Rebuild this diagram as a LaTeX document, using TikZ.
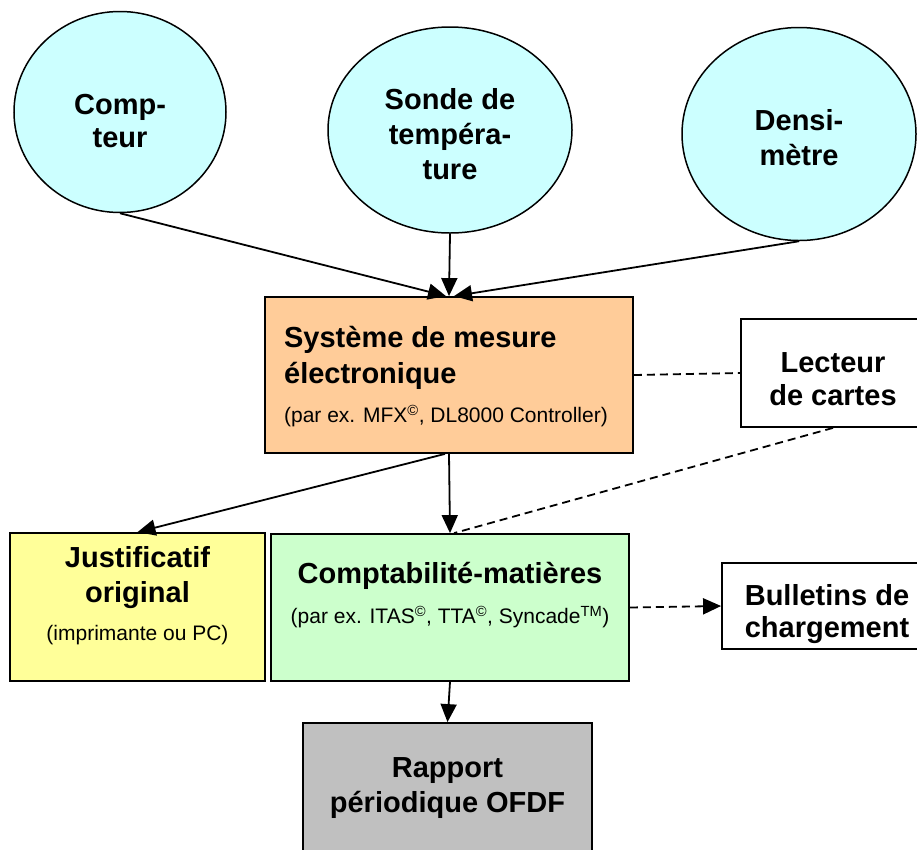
\documentclass[tikz,border=0pt]{standalone}
\usepackage{fontspec}
\setmainfont{Liberation Sans}
\usetikzlibrary{positioning,shapes.geometric,arrows.meta}
\definecolor{sensorfill}{HTML}{CCFFFF}
\definecolor{mesurefill}{HTML}{FFCC99}
\definecolor{justiffill}{HTML}{FFFF99}
\definecolor{comptafill}{HTML}{CCFFCC}
\definecolor{rapportfill}{HTML}{C0C0C0}
\newcommand{\headfont}{\fontsize{29}{35}\selectfont\bfseries}
\newcommand{\notefont}{\fontsize{21}{25}\selectfont\mdseries}
\tikzset{sensor/.style={ellipse,draw,line width=1.5pt,fill=sensorfill,inner sep=0pt},
         block/.style={draw,line width=1.8pt,inner sep=0pt},
         blocktext/.style={inner sep=0pt,align=center,font=\headfont},
         dashlink/.style={line width=1.8pt,dash pattern=on 8pt off 5pt}
}
\tikzstyle{arrow} = [line width=1.8pt,-{Triangle[length=18pt,width=16pt]}]
\begin{document}
\begin{tikzpicture}[x=1pt,y=-1pt]
\useasboundingbox (0,0) rectangle (917,849);

% capteurs
\node[sensor,minimum width=212pt,minimum height=201pt] (cpt) at (120,112) {};
\node[blocktext] (cpttxt) at ([yshift=-9pt]cpt.center) {Comp-\\[-2pt]teur};
\node[sensor,minimum width=244pt,minimum height=206pt] (sonde) at (450,130) {};
\node[blocktext] (sondetxt) at ([yshift=-4pt]sonde.center) {Sonde de\\tempéra-\\ture};
\node[sensor,minimum width=234pt,minimum height=213pt] (dens) at (799,134) {};
\node[blocktext] (denstxt) at ([yshift=-4pt]dens.center) {Densi-\\mètre};

% systemes
\node[block,fill=mesurefill,minimum width=368pt,minimum height=156pt] (sys) at (449,375) {};
\node[blocktext,align=left] (systxt) at ([xshift=-3pt,yshift=-2pt]sys.center)
  {Système de mesure\\[1pt]électronique\\[4pt]{\notefont (par ex. MFX\textsuperscript{©}, DL8000 Controller)}};
\node[block,fill=white,minimum width=184pt,minimum height=108pt] (lect) at (833,373) {};
\node[blocktext] (lecttxt) at ([yshift=-6pt]lect.center) {Lecteur\\[-2pt]de cartes};
\node[block,fill=justiffill,minimum width=255pt,minimum height=148pt] (just) at (137.5,607) {};
\node[blocktext,below=14.5pt of just.north] (justtxt)
  {Justificatif\\original\\[3pt]{\notefont (imprimante ou PC)}};
\node[block,fill=comptafill,minimum width=358pt,minimum height=147pt] (compta) at (450,607.5) {};
\node[blocktext,below=29pt of compta.north] (comptatxt)
  {Comptabilité-matières\\[5pt]{\notefont (par ex. ITAS\textsuperscript{©}, TTA\textsuperscript{©}, Syncade\textsuperscript{TM})}};
\node[block,fill=white,minimum width=210pt,minimum height=86pt] (bull) at (827,606) {};
\node[blocktext] (bulltxt) at ([yshift=-8pt]bull.center) {Bulletins de\\[-3pt]chargement};
\node[block,fill=rapportfill,minimum width=289pt,minimum height=134pt] (rapp) at (447.5,790) {};
\node[blocktext] (rapptxt) at ([yshift=2pt]rapp.center) {Rapport\\périodique OFDF};

% liaisons
\draw[arrow] (cpt.south) -- ([xshift=-3pt]sys.north);
\draw[arrow] (sonde.south) -- (sys.north);
\draw[arrow] (dens.south) -- ([xshift=5pt]sys.north);
\draw[arrow] ([xshift=-4pt]sys.south) -- (just.north);
\draw[arrow] (sys.south) -- (compta.north);
\draw[dashlink] (sys.east) -- (lect.west);
\draw[dashlink] (lect.south) -- ([xshift=4pt]compta.north);
\draw[arrow,dashlink] (compta.east) -- (bull.west);
\draw[arrow] (compta.south) -- (rapp.north);

\end{tikzpicture}
\end{document}
